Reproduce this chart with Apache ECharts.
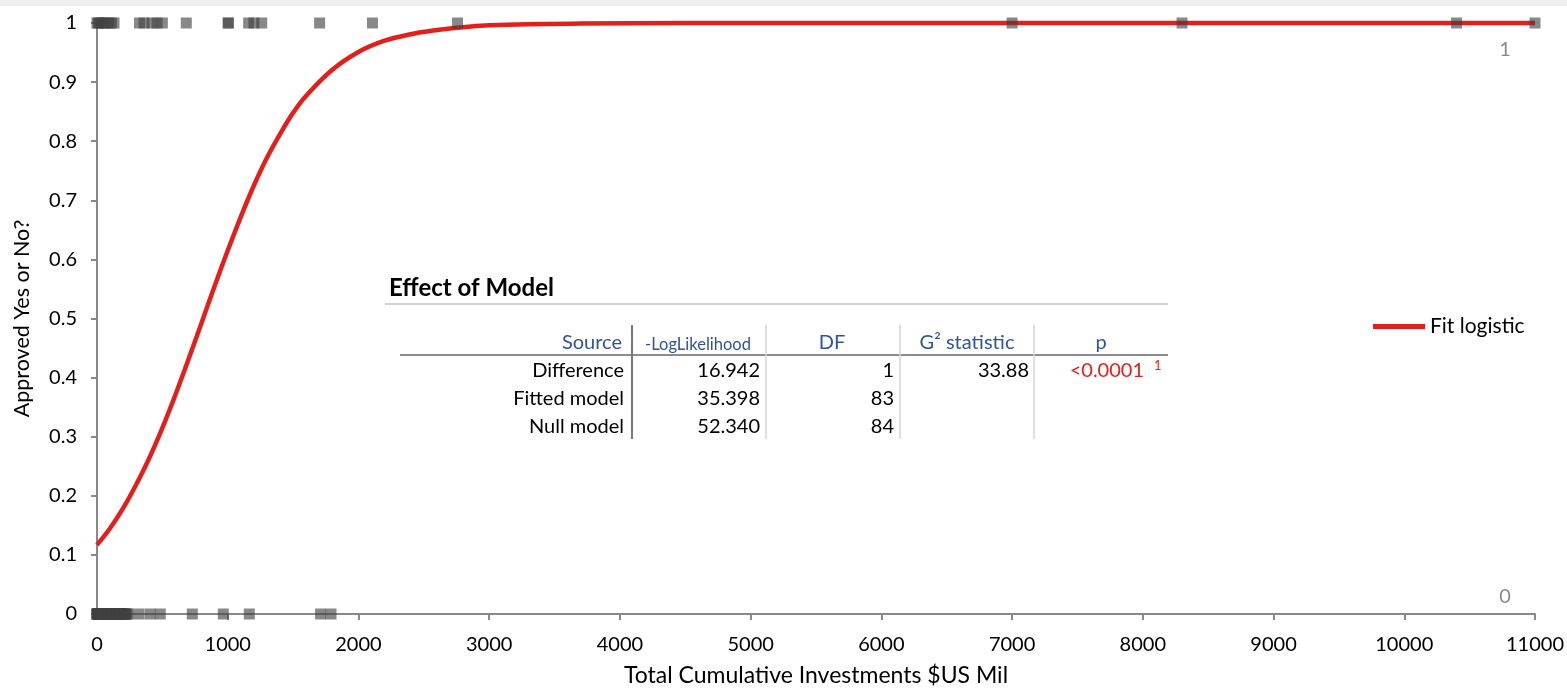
<!DOCTYPE html>
<html>
<head>
<meta charset="utf-8">
<script src="https://cdn.jsdelivr.net/npm/echarts@6/dist/echarts.min.js"></script>
<style>
html,body{margin:0;padding:0;background:#fff;}
#c{width:1567px;height:692px;}
</style>
</head>
<body>
<div id="c"></div>
<script>
// ---- data ----
var xTicks = [0,1000,2000,3000,4000,5000,6000,7000,8000,9000,10000,11000];
var yTicks = [0,0.1,0.2,0.3,0.4,0.5,0.6,0.7,0.8,0.9,1];

// observations with outcome 1 (approved)
var approvedX = [0,10,20,40,60,90,110,130,325,360,420,460,500,683,1004,1004,1160,1200,1260,1703,2107,2758,7000,8300,10400,11000];
// observations with outcome 0 (not approved)
var rejectedX = [0,0,0,2,5,8,10,12,15,18,20,22,25,28,30,35,40,45,50,55,60,65,70,75,80,85,90,95,100,105,110,115,120,125,130,140,150,155,160,165,170,175,180,185,190,200,210,215,220,230,237,319,405,484,729,966,1165,1710,1790];

// fitted logistic curve
var fitX = [0,100,200,300,400,500,600,700,800,900,1000,1100,1200,1300,1400,1500,1600,1800,2000,2200,2400,2600,2800,3000,3300,3700,4500,6000,8000,11000];
var fitY = [0.117,0.145,0.179,0.219,0.264,0.315,0.371,0.431,0.493,0.555,0.615,0.672,0.725,0.772,0.812,0.848,0.877,0.921,0.951,0.970,0.981,0.988,0.993,0.996,0.998,0.999,1,1,1,1];

// table
var tableTitle = 'Effect of Model';
var tableHeaders = ['Source','-LogLikelihood','DF','G\u00b2 statistic','p'];
var rowNames = ['Difference','Fitted model','Null model'];
var colLogLik = ['16.942','35.398','52.340'];
var colDF = ['1','83','84'];
var colG2 = ['33.88','',''];
var colP = ['<0.0001','',''];

var FONT = 'Lato, "Open Sans", sans-serif';
var RED = '#e31f1b';

function pairs(xs, ys){ var o=[]; for(var i=0;i<xs.length;i++) o.push([xs[i], ys[i]]); return o; }
function flat(xs, v){ return xs.map(function(x){return [x,v];}); }

var chart = echarts.init(document.getElementById('c'), null, {renderer:'canvas'});

var g = [];
g.push({type:'rect', left:0, top:0, shape:{width:1567,height:6}, style:{fill:'#f0f0f0'}, silent:true});
// right-side labels
g.push({type:'text', x:1505, y:50, style:{text:'1', fill:'#8a8a8a', font:'20px '+FONT, textAlign:'center', textVerticalAlign:'middle'}});
g.push({type:'text', x:1505, y:597, style:{text:'0', fill:'#8a8a8a', font:'20px '+FONT, textAlign:'center', textVerticalAlign:'middle'}});
// title
g.push({type:'text', x:389, y:288, style:{text:tableTitle, fill:'#000', font:'bold 24px '+FONT, textAlign:'left', textVerticalAlign:'middle'}});
g.push({type:'line', shape:{x1:385,y1:304,x2:1168,y2:304}, style:{stroke:'#d0d0d0', lineWidth:2}});
// header underline
g.push({type:'line', shape:{x1:400,y1:355,x2:1168,y2:355}, style:{stroke:'#8c8c8c', lineWidth:2}});
// vertical separators
g.push({type:'line', shape:{x1:632,y1:325,x2:632,y2:439}, style:{stroke:'#7a7a7a', lineWidth:2}});
[766,900,1034].forEach(function(x){
  g.push({type:'line', shape:{x1:x,y1:325,x2:x,y2:439}, style:{stroke:'#d4d4d4', lineWidth:1.5}});
});
var BLUE = '#2f5597';
function txt(t, x, y, align, size, color){
  g.push({type:'text', x:x, y:y, style:{text:t, fill:color||'#000', font:size+'px '+FONT, textAlign:align, textVerticalAlign:'middle'}});
}
txt(tableHeaders[0], 622, 343, 'right', 20, BLUE);
txt(tableHeaders[1], 698, 345, 'center', 16.5, BLUE);
txt(tableHeaders[2], 832, 343, 'center', 20, BLUE);
txt(tableHeaders[3], 967, 343, 'center', 20, BLUE);
txt(tableHeaders[4], 1101, 343, 'center', 20, BLUE);
var rowY = [371, 399, 427];
for (var i=0;i<rowNames.length;i++){
  txt(rowNames[i], 624, rowY[i], 'right', 20);
  txt(colLogLik[i], 760, rowY[i], 'right', 20);
  txt(colDF[i], 894, rowY[i], 'right', 20);
  if (colG2[i]) txt(colG2[i], 1029, rowY[i], 'right', 20);
  if (colP[i]) { txt(colP[i], 1144, rowY[i], 'right', 20, RED); txt('1', 1154, rowY[i]-5, 'left', 13, RED); }
}

var option = {
  backgroundColor:'#fff',
  animation:false,
  textStyle:{fontFamily:FONT},
  grid:{left:97, right:32, top:23, bottom:72, containLabel:false},
  legend:{
    data:[{name:'Fit logistic', icon:'rect'}],
    left:1368, top:311, itemWidth:52, itemHeight:5, itemGap:8,
    textStyle:{fontFamily:FONT, fontSize:21, color:'#000'}
  },
  xAxis:{
    type:'value', min:0, max:11000, interval:1000,
    name:'Total Cumulative Investments $US Mil', nameLocation:'middle', nameGap:50,
    nameTextStyle:{fontFamily:FONT, fontSize:23, color:'#000'},
    axisLine:{show:true, onZero:false, lineStyle:{color:'#898989', width:2}},
    axisTick:{show:true, inside:false, length:6, lineStyle:{color:'#898989', width:2}},
    axisLabel:{fontFamily:FONT, fontSize:20, color:'#000', margin:21, formatter:function(v){return String(v);}},
    splitLine:{show:false}
  },
  yAxis:{
    type:'value', min:0, max:1, interval:0.1,
    name:'Approved Yes or No?', nameLocation:'middle', nameGap:64, nameRotate:90,
    nameTextStyle:{fontFamily:FONT, fontSize:21.5, color:'#000'},
    axisLine:{show:true, onZero:false, lineStyle:{color:'#898989', width:2}},
    axisTick:{show:true, inside:false, length:6, lineStyle:{color:'#898989', width:2}},
    axisLabel:{fontFamily:FONT, fontSize:20, color:'#000', margin:20, formatter:function(v){return String(Math.round(v*10)/10);}},
    splitLine:{show:false}
  },
  series:[
    {
      name:'Fit logistic', type:'line', data:pairs(fitX, fitY), smooth:0.4,
      showSymbol:false, symbol:'none', clip:false,
      lineStyle:{color:RED, width:4.5}, itemStyle:{color:RED}, z:2
    },
    {
      name:'Approved', type:'scatter', data:flat(approvedX,1), symbol:'rect', symbolSize:11, clip:false,
      itemStyle:{color:'rgba(64,64,64,0.78)'}, z:3
    },
    {
      name:'Rejected', type:'scatter', data:flat(rejectedX,0), symbol:'rect', symbolSize:11, clip:false,
      itemStyle:{color:'rgba(64,64,64,0.78)'}, z:3
    }
  ],
  graphic:g
};
chart.setOption(option);
</script>
</body>
</html>
